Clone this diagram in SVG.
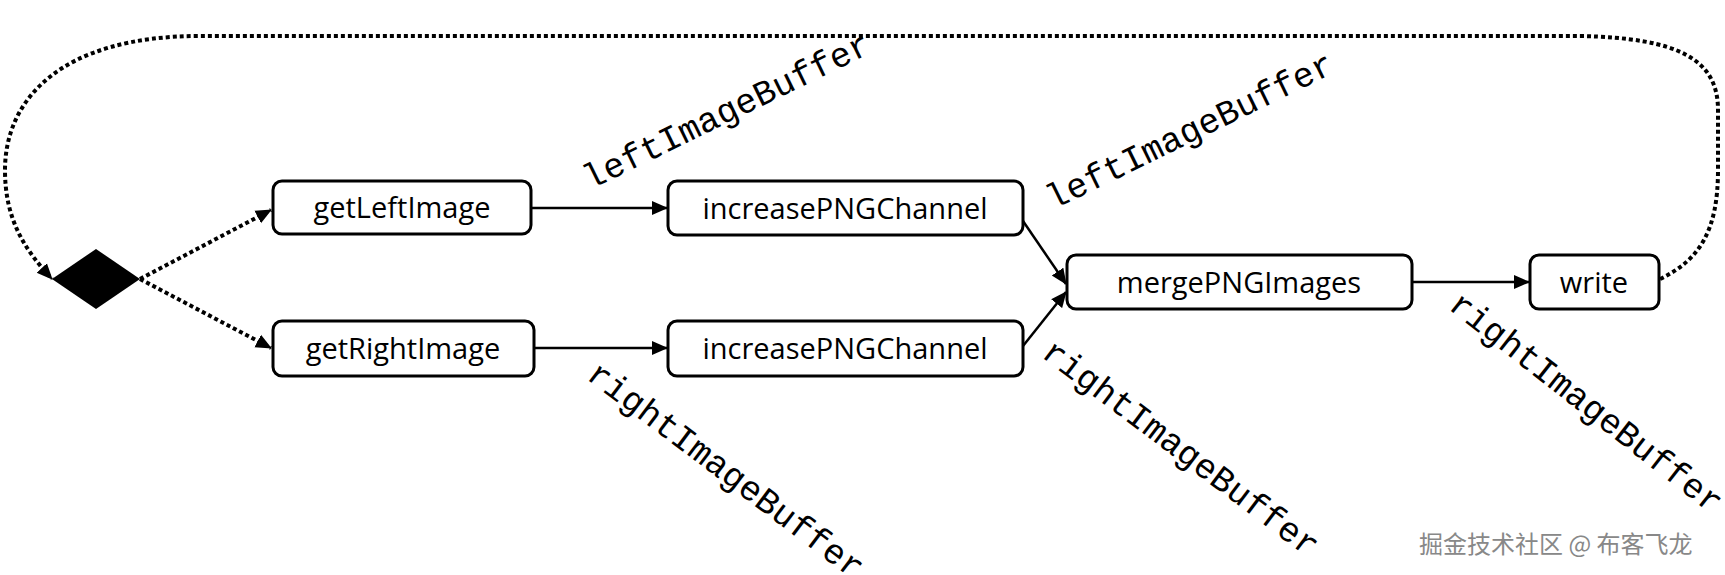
<svg xmlns="http://www.w3.org/2000/svg" width="1725" height="575" viewBox="0 0 1725 575">
<style>
.node rect{fill:#fff;stroke:#000;stroke-width:3}
.node text{font-family:"Open Sans","Noto Sans",sans-serif;font-size:29px;text-anchor:middle;fill:#000}
.lbl{font-family:"Liberation Mono",monospace;font-size:35px;fill:#000}
.solid{stroke:#000;stroke-width:2.5;fill:none;marker-end:url(#ah)}
.dot{stroke:#000;stroke-width:4;stroke-dasharray:4 3;fill:none;marker-end:url(#ah)}
</style>
<defs>
<marker id="ah" markerWidth="16" markerHeight="16" refX="15" refY="7" orient="auto" markerUnits="userSpaceOnUse" viewBox="0 0 16 14">
<path d="M0,0 L16,7 L0,14 z" fill="#000"/>
</marker>
</defs>
<rect width="1725" height="575" fill="#fff"/>
<g id="connectors">
<path class="dot" d="M1660,279 C1700,260 1718,230 1718,170 L1718,110 C1718,60 1680,38 1580,36 L200,36 C60,36 5,100 5,170 C5,220 25,250 52,279"/>
<path class="dot" d="M140,279 L271,210"/>
<path class="dot" d="M140,279 L271,348"/>
<path class="solid" d="M531,208 L667,208"/>
<path class="solid" d="M534,348 L667,348"/>
<path class="solid" d="M1023,221 L1066,284"/>
<path class="solid" d="M1023,346 L1066,292"/>
<path class="solid" d="M1412,282 L1529,282"/>
</g>
<g id="decision"><path d="M52,279 L96,249 L140,279 L96,309 z" fill="#000"/></g>
<g id="getLeftImage" class="node"><rect x="273" y="181" width="258" height="53" rx="9"/><text x="402" y="218">getLeftImage</text></g>
<g id="getRightImage" class="node"><rect x="273" y="321" width="261" height="55" rx="9"/><text x="403" y="359">getRightImage</text></g>
<g id="increasePNGChannel1" class="node"><rect x="668" y="181" width="355" height="54" rx="9"/><text x="845" y="219">increasePNGChannel</text></g>
<g id="increasePNGChannel2" class="node"><rect x="668" y="321" width="355" height="55" rx="9"/><text x="845" y="359">increasePNGChannel</text></g>
<g id="mergePNGImages" class="node"><rect x="1067" y="255" width="345" height="54" rx="9"/><text x="1239" y="293">mergePNGImages</text></g>
<g id="write" class="node"><rect x="1530" y="255" width="129" height="54" rx="9"/><text x="1594" y="293">write</text></g>
<g id="labels">
<text class="lbl" transform="translate(590,190) rotate(-26)">leftImageBuffer</text>
<text class="lbl" transform="translate(1053,210) rotate(-26)">leftImageBuffer</text>
<text class="lbl" transform="translate(585,378) rotate(37)">rightImageBuffer</text>
<text class="lbl" transform="translate(1040,356) rotate(37)">rightImageBuffer</text>
<text class="lbl" transform="translate(1447,308) rotate(38)">rightImageBuffer</text>
<text x="1419" y="553" font-family="'Noto Sans CJK SC',sans-serif" font-size="24" fill="#888">掘金技术社区 @ 布客飞龙</text>
</g>
</svg>
